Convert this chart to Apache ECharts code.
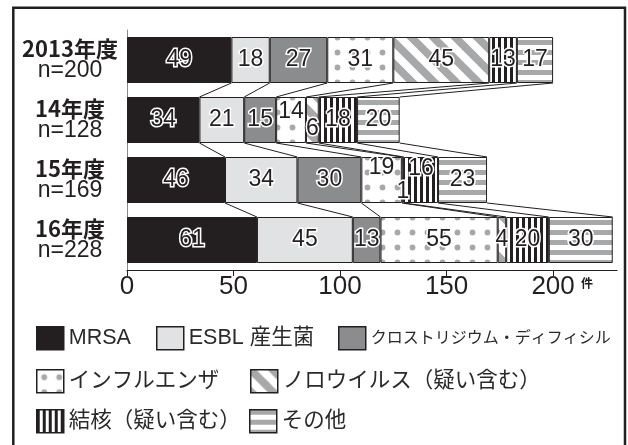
<!DOCTYPE html>
<html><head><meta charset="utf-8">
<script src="https://cdn.jsdelivr.net/npm/echarts@6/dist/echarts.min.js"></script>
<style>html,body{margin:0;padding:0;background:#fff}#c{width:628px;height:445px}</style>
</head><body><div id="c"></div>
<script>
// ---- data ----
const years = ['2013年度', '14年度', '15年度', '16年度'];
const nLabels = ['n=200', 'n=128', 'n=169', 'n=228'];
const seriesNames = ['MRSA', 'ESBL 産生菌', 'クロストリジウム・ディフィシル', 'インフルエンザ', 'ノロウイルス（疑い含む）', '結核（疑い含む）', 'その他'];
const mrsa = [49, 34, 46, 61];
const esbl = [18, 21, 34, 45];
const cdiff = [27, 15, 30, 13];
const influenza = [31, 14, 19, 55];
const norovirus = [45, 6, 1, 4];
const tuberculosis = [13, 18, 16, 20];
const other = [17, 20, 23, 30];
const xTicks = [0, 50, 100, 150, 200];
const unitLabel = '件';

// ---- styling ----
const BAR_W = 46;
const INK = '#231f20';
const GRAY = '#a7a8aa';
function makeTile(w, h, draw) {
  const c = document.createElement('canvas'); c.width = w; c.height = h;
  const g = c.getContext('2d'); g.fillStyle = '#fff'; g.fillRect(0, 0, w, h);
  draw(g, w, h); return { image: c, repeat: 'repeat' };
}
const dotPat = makeTile(15, 15, g => { g.fillStyle = GRAY; g.beginPath(); g.arc(7.5, 7.5, 2.9, 0, Math.PI * 2); g.fill(); });
const diagPat = makeTile(22, 22, (g, w, h) => {
  g.strokeStyle = GRAY; g.lineWidth = 7.8;
  for (let k = -1; k <= 1; k++) { g.beginPath(); g.moveTo(k * w - 3, -3); g.lineTo(k * w + w + 3, h + 3); g.stroke(); }
});
const vPat = makeTile(6, 6, g => { g.fillStyle = INK; g.fillRect(0, 0, 3, 6); });
const hPat = makeTile(10, 10, g => { g.fillStyle = GRAY; g.fillRect(0, 0, 10, 5); });
const fills = ['#231f20', '#e1e2e4', '#8b8c8e', dotPat, diagPat, vPat, hPat];

// label nudges: "seriesIndex-yearIndex" -> [dx, dy]
const labelNudge = { '3-1': [0, -8], '4-1': [0, 9], '3-2': [0, -12], '5-2': [0, -11], '4-2': [0, 12] };

const legendPos = [[36, 326], [156, 326], [338, 326], [36, 369], [250, 369], [36, 409], [249, 409]];
const legendFont = [21.5, 21.5, 16, 21.5, 21.5, 21.5, 21.5];

const seriesData = [mrsa, esbl, cdiff, influenza, norovirus, tuberculosis, other];

const labelStyle = {
  show: true, position: 'inside', fontFamily: "'Liberation Sans Narrow','Liberation Sans',sans-serif",
  fontSize: 23, color: INK, textBorderColor: '#fff', textBorderWidth: 3
};

const barSeries = seriesData.map((arr, s) => ({
  name: seriesNames[s], type: 'bar', stack: 'total', barWidth: BAR_W, z: 3,
  itemStyle: { color: fills[s], borderColor: INK, borderWidth: 1 },
  label: labelStyle,
  data: arr.map((v, i) => {
    const nd = labelNudge[s + '-' + i];
    return nd ? { value: v, label: { offset: nd } } : v;
  })
}));

// connector lines between cumulative boundaries
const cumulative = years.map((_, i) => { let t = 0; return seriesData.map(d => (t += d[i])); });
const connectorData = [];
for (let i = 0; i < years.length - 1; i++)
  for (let k = 0; k < seriesData.length; k++)
    connectorData.push([cumulative[i][k], i, cumulative[i + 1][k], i + 1]);

const connectorSeries = {
  type: 'custom', z: 1, silent: true, clip: false,
  encode: { x: [0, 2], y: [1, 3] },
  data: connectorData,
  renderItem(params, api) {
    const p1 = api.coord([api.value(0), api.value(1)]);
    const p2 = api.coord([api.value(2), api.value(3)]);
    return { type: 'line', shape: { x1: p1[0], y1: p1[1] + BAR_W / 2, x2: p2[0], y2: p2[1] - BAR_W / 2 },
      style: { stroke: INK, lineWidth: 1 } };
  }
};

const legends = seriesNames.map((nm, s) => ({
  data: [nm], left: legendPos[s][0], top: legendPos[s][1], icon: 'rect',
  itemWidth: 27, itemHeight: 23, itemGap: 0, selectedMode: false, padding: 0,
  itemStyle: { borderColor: INK, borderWidth: 1.5 },
  textStyle: { fontSize: legendFont[s], color: '#2a2a2a', fontFamily: "'Liberation Sans','Noto Sans CJK JP',sans-serif" }
}));

const chart = echarts.init(document.getElementById('c'), null, { renderer: 'canvas' });
chart.setOption({
  animation: false,
  backgroundColor: '#fff',
  grid: { left: 127, right: 11, top: 30, bottom: 175, containLabel: false, outerBoundsMode: 'none' },
  xAxis: {
    type: 'value', min: 0, max: 230, interval: 50,
    axisLine: { show: true, lineStyle: { color: INK, width: 1.2 } },
    axisTick: { show: true, customValues: xTicks, length: 6, lineStyle: { color: INK } },
    axisLabel: { customValues: xTicks, fontFamily: "'Liberation Sans Narrow','Liberation Sans',sans-serif", fontSize: 26, color: INK, margin: 4 },
    splitLine: { show: false }
  },
  yAxis: {
    type: 'category', data: years, inverse: true,
    axisLine: { show: true, lineStyle: { color: '#8a8a8a', width: 1 } },
    axisTick: { show: false },
    axisLabel: {
      margin: 57, align: 'center',
      formatter: (v, idx) => '{b|' + years[idx] + '}\n{n|' + nLabels[idx] + '}',
      rich: {
        b: { fontFamily: "'Noto Sans CJK JP',sans-serif", fontWeight: 'bold', fontSize: 22, lineHeight: 21, color: INK, align: 'center' },
        n: { fontFamily: "'Liberation Sans',sans-serif", fontSize: 23, lineHeight: 22, color: INK, align: 'center' }
      }
    }
  },
  legend: legends,
  graphic: [
    { type: 'rect', shape: { x: 13.3, y: 7.8, width: 611.7, height: 445 }, style: { fill: 'none', stroke: INK, lineWidth: 2.5 }, silent: true },
    { type: 'text', x: 587, y: 283, style: { text: unitLabel, fontSize: 12, fontWeight: 'bold', fontFamily: "'Noto Sans CJK JP',sans-serif", fill: INK, align: 'center', verticalAlign: 'middle' }, silent: true }
  ],
  series: [connectorSeries].concat(barSeries)
});
</script>
</body></html>
